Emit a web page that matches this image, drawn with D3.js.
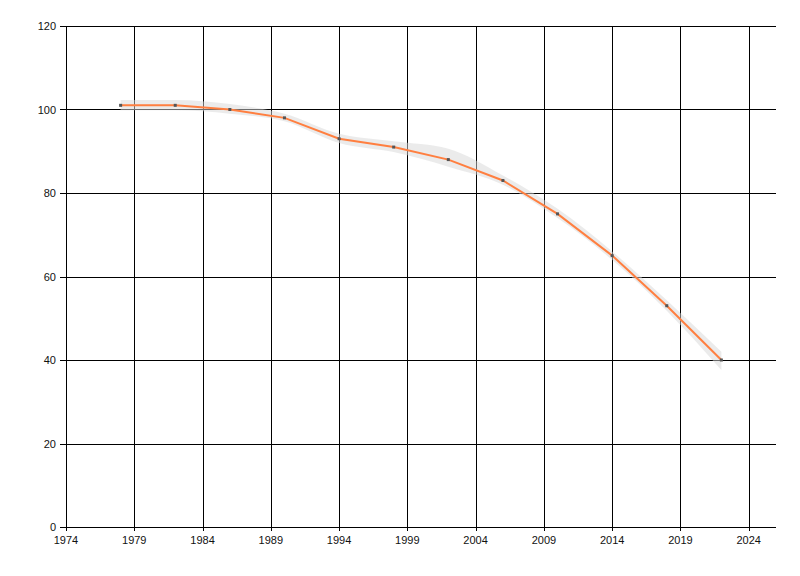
<!DOCTYPE html>
<html><head><meta charset="utf-8">
<script src="https://cdn.jsdelivr.net/npm/d3@7/dist/d3.min.js"></script>
<style>
body{margin:0;background:#fff;}
text{font-family:"Liberation Sans","DejaVu Sans",sans-serif;font-size:11px;fill:#111;}
</style></head>
<body>
<svg id="c" width="800" height="576"></svg>
<script>
const years = [1978,1982,1986,1990,1994,1998,2002,2006,2010,2014,2018,2022];
const values = [101,101,100,98,93,91,88,83,75,65,53,40];
const upper = [102.3,102.3,101.3,99.0,94.2,92.4,90.6,84.2,76.2,66.0,54.3,42.0];
const lower = [99.8,99.8,99.0,97.2,92.0,89.8,86.3,82.0,74.0,64.0,51.8,37.6];
const xTicks = [1974,1979,1984,1989,1994,1999,2004,2009,2014,2019,2024];
const yTicks = [0,20,40,60,80,100,120];

const svg = d3.select("#c");
const L=66, R=776, T=26, B=527;
const x = d3.scaleLinear().domain([1974,2026]).range([L,R]);
const y = d3.scaleLinear().domain([0,120]).range([B,T]);

// grid
const g = svg.append("g");
g.selectAll("line.v").data(xTicks).join("line")
  .attr("x1",d=>Math.round(x(d))+0.5).attr("x2",d=>Math.round(x(d))+0.5)
  .attr("y1",T).attr("y2",B+4).attr("stroke","#000");
g.selectAll("line.h").data(yTicks).join("line")
  .attr("y1",d=>Math.round(y(d))+0.5).attr("y2",d=>Math.round(y(d))+0.5)
  .attr("x1",L-6).attr("x2",R).attr("stroke","#000");
// y axis line
g.append("line").attr("x1",L+0.5).attr("x2",L+0.5).attr("y1",T).attr("y2",B+4).attr("stroke","#000");

// labels
svg.selectAll("text.y").data(yTicks).join("text")
  .attr("x",L-10).attr("y",d=>y(d)+4).attr("text-anchor","end").text(d=>d);
svg.selectAll("text.x").data(xTicks).join("text")
  .attr("x",d=>x(d)).attr("y",B+17).attr("text-anchor","middle").text(d=>d);

// band
const band = d3.area()
  .x((d,i)=>x(years[i])).y0((d,i)=>y(lower[i])).y1((d,i)=>y(upper[i]))
  .curve(d3.curveMonotoneX);
svg.append("path").datum(years).attr("d",band)
  .attr("fill","#d8d8d8").attr("fill-opacity",0.5);

// line
const line = d3.line().x((d,i)=>x(years[i])).y((d,i)=>y(values[i]));
svg.append("path").datum(values).attr("d",line)
  .attr("fill","none").attr("stroke","#ff7f40").attr("stroke-width",2);

// points
svg.selectAll("rect.p").data(values).join("rect")
  .attr("x",(d,i)=>x(years[i])-1.5).attr("y",d=>y(d)-1.5)
  .attr("width",3).attr("height",3).attr("fill","#555");
</script>
</body></html>
